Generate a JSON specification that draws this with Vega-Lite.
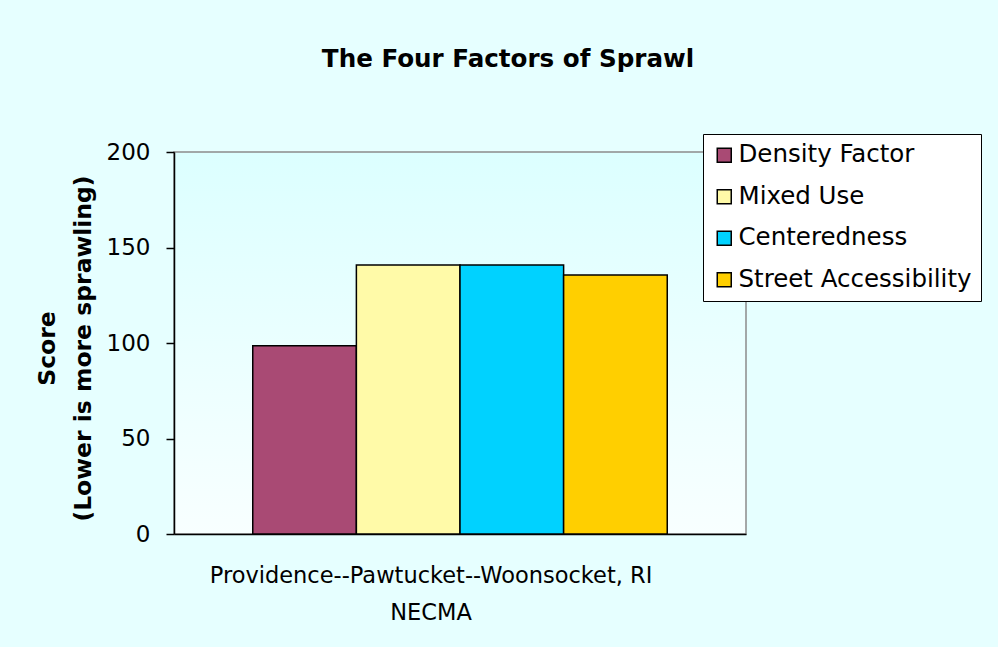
{
  "$schema": "https://vega.github.io/schema/vega-lite/v6.json",
  "width": 572,
  "height": 382,
  "autosize": {"type": "none"},
  "padding": {"left": 174, "top": 152, "right": 252, "bottom": 113},
  "background": "#E6FFFF",
  "title": {
    "text": "The Four Factors of Sprawl",
    "font": "DejaVu Sans",
    "fontSize": 24.6,
    "fontWeight": "bold",
    "color": "#000000",
    "anchor": "middle",
    "offset": 49,
    "baseline": "middle",
    "dx": 48
  },
  "data": {
    "values": [
      {"region": "Providence--Pawtucket--Woonsocket, RI NECMA", "factor": "Density Factor", "score": 98.5},
      {"region": "Providence--Pawtucket--Woonsocket, RI NECMA", "factor": "Mixed Use", "score": 140.8},
      {"region": "Providence--Pawtucket--Woonsocket, RI NECMA", "factor": "Centeredness", "score": 140.8},
      {"region": "Providence--Pawtucket--Woonsocket, RI NECMA", "factor": "Street Accessibility", "score": 135.6}
    ]
  },
  "mark": {"type": "bar", "stroke": "#000000", "strokeWidth": 1.5},
  "encoding": {
    "x": {
      "field": "region",
      "type": "nominal",
      "scale": {"paddingInner": 0, "paddingOuter": 0.19},
      "axis": {
        "title": null,
        "ticks": false,
        "domainColor": "#000000",
        "domainWidth": 1.5,
        "labelAngle": 0,
        "labelExpr": "[replace(datum.value, ' NECMA', ''), 'NECMA']",
        "labelFont": "DejaVu Sans",
        "labelFontSize": 22.5,
        "labelColor": "#000000",
        "labelLineHeight": 37,
        "labelBaseline": "middle",
        "labelPadding": 41,
        "labelOffset": -29,
        "labelLimit": 0
      }
    },
    "xOffset": {
      "field": "factor",
      "type": "nominal",
      "sort": ["Density Factor", "Mixed Use", "Centeredness", "Street Accessibility"],
      "scale": {"paddingInner": 0, "paddingOuter": 0}
    },
    "y": {
      "field": "score",
      "type": "quantitative",
      "scale": {"domain": [0, 200]},
      "axis": {
        "values": [0, 50, 100, 150, 200],
        "grid": false,
        "domainColor": "#000000",
        "domainWidth": 1.5,
        "tickColor": "#000000",
        "tickWidth": 1.5,
        "tickSize": 8,
        "labelFont": "DejaVu Sans",
        "labelFontSize": 23,
        "labelColor": "#000000",
        "labelPadding": 16,
        "title": ["Score", "(Lower is more sprawling)"],
        "titleFont": "DejaVu Sans",
        "titleFontSize": 23.5,
        "titleFontWeight": "bold",
        "titleColor": "#000000",
        "titleLineHeight": 36,
        "titleBaseline": "middle",
        "titleAngle": -90,
        "titleX": -127,
        "titleY": 196
      }
    },
    "color": {
      "field": "factor",
      "type": "nominal",
      "sort": ["Density Factor", "Mixed Use", "Centeredness", "Street Accessibility"],
      "scale": {
        "domain": ["Density Factor", "Mixed Use", "Centeredness", "Street Accessibility"],
        "range": ["#A94A74", "#FFFAA8", "#00D2FF", "#FFCF00"]
      },
      "legend": {
        "title": null,
        "orient": "none",
        "legendX": 529,
        "legendY": -18,
        "fillColor": "#FFFFFF",
        "strokeColor": "#000000",
        "padding": 9,
        "symbolType": "square",
        "symbolSize": 196,
        "symbolStrokeColor": "#000000",
        "symbolStrokeWidth": 1.5,
        "symbolOpacity": 1,
        "labelFont": "DejaVu Sans",
        "labelFontSize": 24.5,
        "labelColor": "#000000",
        "labelOffset": 2,
        "labelLimit": 400,
        "rowPadding": 16.5
      }
    }
  },
  "config": {
    "view": {
      "stroke": "#8C8C8C",
      "strokeWidth": 1.5,
      "fill": {
        "gradient": "linear",
        "x1": 0, "y1": 0, "x2": 0, "y2": 1,
        "stops": [
          {"offset": 0, "color": "#DCFFFF"},
          {"offset": 1, "color": "#F8FFFF"}
        ]
      }
    }
  }
}
